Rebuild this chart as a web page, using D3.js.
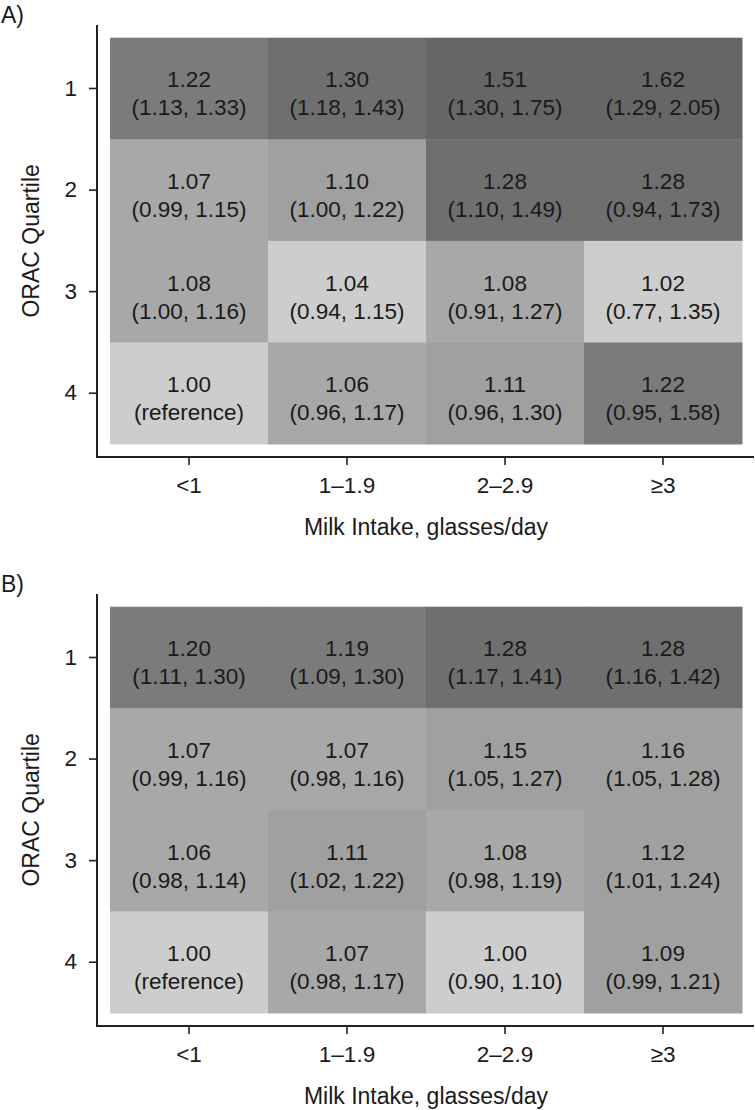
<!DOCTYPE html>
<html>
<head>
<meta charset="utf-8">
<script src="https://cdn.jsdelivr.net/npm/d3@7"></script>
<style>
  html, body { margin: 0; padding: 0; background: #fff; }
  svg { display: block; }
  text { font-family: "Liberation Sans", Arial, Helvetica, sans-serif; fill: #1a1a1a; }
</style>
</head>
<body>
<svg id="chart" width="755" height="1110"></svg>
<script>
// ---- Data ----
const milkCategories = ["<1", "1\u20131.9", "2\u20132.9", "\u22653"];
const oracQuartiles = ["1", "2", "3", "4"];
const panelLabels = ["A)", "B)"];

// Panel A: hazard ratios, lower and upper CI (rows = ORAC quartile 1..4, cols = milk category)
const hrA = [
  [1.22, 1.30, 1.51, 1.62],
  [1.07, 1.10, 1.28, 1.28],
  [1.08, 1.04, 1.08, 1.02],
  [1.00, 1.06, 1.11, 1.22]
];
const lowA = [
  [1.13, 1.18, 1.30, 1.29],
  [0.99, 1.00, 1.10, 0.94],
  [1.00, 0.94, 0.91, 0.77],
  [null, 0.96, 0.96, 0.95]
];
const highA = [
  [1.33, 1.43, 1.75, 2.05],
  [1.15, 1.22, 1.49, 1.73],
  [1.16, 1.15, 1.27, 1.35],
  [null, 1.17, 1.30, 1.58]
];

// Panel B
const hrB = [
  [1.20, 1.19, 1.28, 1.28],
  [1.07, 1.07, 1.15, 1.16],
  [1.06, 1.11, 1.08, 1.12],
  [1.00, 1.07, 1.00, 1.09]
];
const lowB = [
  [1.11, 1.09, 1.17, 1.16],
  [0.99, 0.98, 1.05, 1.05],
  [0.98, 1.02, 0.98, 1.01],
  [null, 0.98, 0.90, 0.99]
];
const highB = [
  [1.30, 1.30, 1.41, 1.42],
  [1.16, 1.16, 1.27, 1.28],
  [1.14, 1.22, 1.19, 1.24],
  [null, 1.17, 1.10, 1.21]
];

const xTitle = "Milk Intake, glasses/day";
const yTitle = "ORAC Quartile";

// ---- Drawing ----
const svg = d3.select("#chart");
const fmt = d3.format(".2f");

const shade = d3.scaleThreshold()
  .domain([1.05, 1.09, 1.17, 1.25, 1.45])
  .range(["#cdcdcd", "#a8a8a8", "#a0a0a0", "#7b7b7b", "#6f6f6f", "#666666"]);

const panels = [
  { label: panelLabels[0], hr: hrA, low: lowA, high: highA, top: 0 },
  { label: panelLabels[1], hr: hrB, low: lowB, high: highB, top: 569 }
];

const x = d3.scaleBand().domain(milkCategories).range([110, 742]).padding(0);
const y = d3.scaleBand().domain(oracQuartiles).range([37.7, 444]).padding(0);

const axisLeftX = 97, axisTopY = 25, axisBottomY = 457, axisRightX = 754;
const fontSize = 22.5;

panels.forEach(p => {
  const g = svg.append("g").attr("transform", `translate(0,${p.top})`);

  // panel label
  g.append("text").attr("x", 1).attr("y", 23)
    .style("font-size", "23px").text(p.label);

  const cells = [];
  p.hr.forEach((row, i) => row.forEach((v, j) => {
    cells.push({ q: oracQuartiles[i], m: milkCategories[j], hr: v, lo: p.low[i][j], hi: p.high[i][j] });
  }));

  g.selectAll("rect.cell").data(cells).enter().append("rect")
    .attr("class", "cell")
    .attr("x", d => x(d.m))
    .attr("y", d => y(d.q))
    .attr("width", x.bandwidth() + 0.5)
    .attr("height", y.bandwidth() + 0.5)
    .attr("fill", d => shade(d.hr));

  const lab = g.selectAll("g.lab").data(cells).enter().append("g")
    .attr("class", "lab")
    .attr("transform", d => `translate(${x(d.m) + x.bandwidth() / 2},${y(d.q) + y.bandwidth() / 2})`);
  lab.append("text").attr("text-anchor", "middle").attr("y", -1)
    .style("font-size", fontSize + "px").text(d => fmt(d.hr));
  lab.append("text").attr("text-anchor", "middle").attr("y", 27)
    .style("font-size", fontSize + "px")
    .text(d => d.lo == null ? "(reference)" : `(${fmt(d.lo)}, ${fmt(d.hi)})`);

  // axes
  const xAxis = g.append("g").attr("transform", `translate(0,${axisBottomY})`)
    .call(d3.axisBottom(x).tickSize(8).tickSizeOuter(0).tickPadding(12));
  xAxis.select(".domain").remove();
  xAxis.selectAll(".tick line").attr("stroke", "#222").attr("stroke-width", 1.6);
  xAxis.selectAll(".tick text").style("font-size", fontSize + "px")
    .style("font-family", "'Liberation Sans', Arial, sans-serif").attr("fill", "#1a1a1a");

  const yAxis = g.append("g").attr("transform", `translate(${axisLeftX},0)`)
    .call(d3.axisLeft(y).tickSize(8).tickSizeOuter(0).tickPadding(12));
  yAxis.select(".domain").remove();
  yAxis.selectAll(".tick line").attr("stroke", "#222").attr("stroke-width", 1.6);
  yAxis.selectAll(".tick text").style("font-size", fontSize + "px")
    .style("font-family", "'Liberation Sans', Arial, sans-serif").attr("fill", "#1a1a1a");

  // L-shaped frame
  g.append("path")
    .attr("d", `M${axisLeftX},${axisTopY}V${axisBottomY}H${axisRightX}`)
    .attr("fill", "none").attr("stroke", "#222").attr("stroke-width", 2);

  // axis titles
  g.append("text").attr("x", 426).attr("y", 535).attr("text-anchor", "middle")
    .style("font-size", "23px").text(xTitle);
  g.append("text")
    .attr("transform", `translate(39,${(y.range()[0] + y.range()[1]) / 2}) rotate(-90)`)
    .attr("text-anchor", "middle")
    .style("font-size", "23px").text(yTitle);
});
</script>
</body>
</html>
